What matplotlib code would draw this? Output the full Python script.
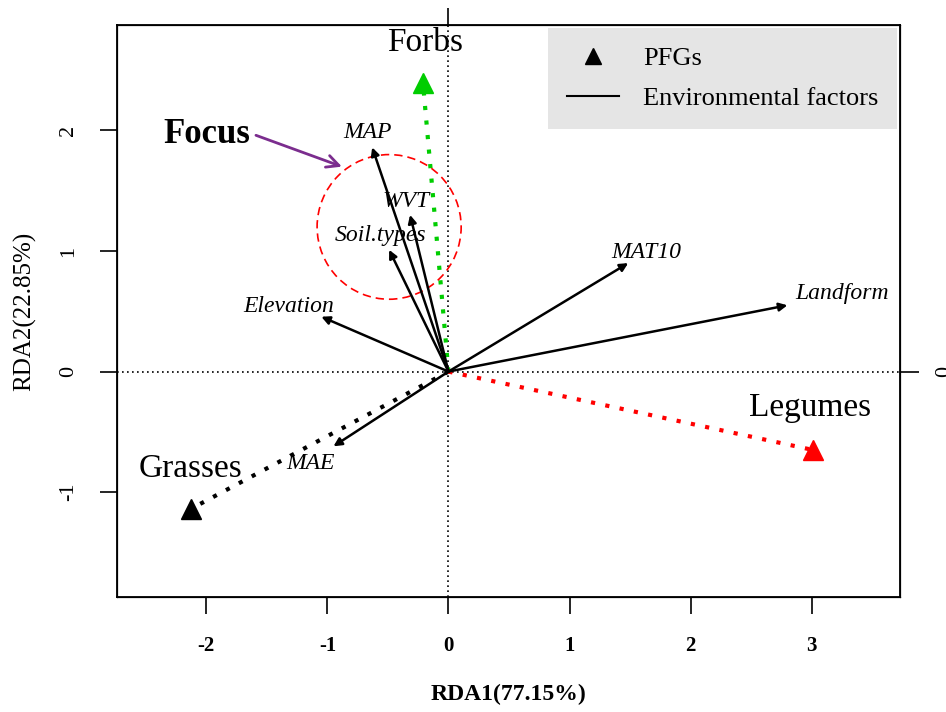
import matplotlib.pyplot as plt
from matplotlib.patches import Ellipse
from matplotlib.lines import Line2D

plt.rcParams['font.family'] = ['Liberation Serif', 'DejaVu Serif']

# PFG scores (triangles)
pfg_names = ['Grasses', 'Forbs', 'Legumes']
pfg_x = [-2.13, -0.21, 3.01]
pfg_y = [-1.14, 2.39, -0.65]
pfg_lab_x = [-2.13, -0.19, 2.99]
pfg_lab_y = [-0.81, 2.73, -0.30]
pfg_colors = ['black', '#00CD00', '#FF0000']

# environmental factor arrows
env_names = ['MAP', 'WVT', 'Soil.types', 'Elevation', 'MAT10', 'Landform', 'MAE']
env_x = [-0.63, -0.317, -0.49, -1.05, 1.485, 2.80, -0.95]
env_y = [1.86, 1.30, 1.01, 0.455, 0.90, 0.55, -0.62]
env_lab_x = [-0.67, -0.35, -0.56, -1.32, 1.63, 3.25, -1.14]
env_lab_y = [1.98, 1.41, 1.13, 0.54, 0.99, 0.65, -0.76]

xticks = [-2, -1, 0, 1, 2, 3]
yticks = [-1, 0, 1, 2]

fig = plt.figure(figsize=(9.46, 7.12), dpi=100)
ax = fig.add_axes([0.1234, 0.1615, 0.8280, 0.8034])
ax.set_xlim(-2.74, 3.73)
ax.set_ylim(-1.87, 2.875)

ax.axhline(0, color='black', ls=(0, (1, 2)), lw=1.2, zorder=1)
ax.axvline(0, color='black', ls=(0, (1, 2)), lw=1.2, zorder=1)

# dotted lines to PFGs
for x, y, c in zip(pfg_x, pfg_y, pfg_colors):
    ax.plot([0, x], [0, y], color=c, ls=(0, (1, 2.5)), lw=3, zorder=2)
    ax.plot(x, y, marker='^', ms=14, color=c, zorder=4)
for name, x, y in zip(pfg_names, pfg_lab_x, pfg_lab_y):
    ax.text(x, y, name, fontsize=24, ha='center', va='center')

# env arrows
for name, x, y, lx, ly in zip(env_names, env_x, env_y, env_lab_x, env_lab_y):
    ax.annotate('', xy=(x, y), xytext=(0, 0),
                arrowprops=dict(arrowstyle='-|>', lw=1.8, color='black',
                                mutation_scale=12, shrinkA=0, shrinkB=0), zorder=3)
    ax.text(lx, ly, name, fontsize=17, style='italic', ha='center', va='center', zorder=5)

# focus circle
ax.add_patch(Ellipse((-0.49, 1.20), 2 * 0.595, 2 * 0.60, fill=False,
                     edgecolor='#FF0000', ls=(0, (5, 3)), lw=1.2, zorder=2))
ax.annotate('', xy=(-0.88, 1.70), xytext=(-1.59, 1.96),
            arrowprops=dict(arrowstyle='->', lw=2, color='#7B2D8E',
                            mutation_scale=22, shrinkA=0, shrinkB=0))
ax.text(-2.0, 1.97, 'Focus', fontsize=25, fontweight='bold', ha='center', va='center')

# legend
handles = [Line2D([], [], marker='^', ls='none', color='black', ms=12),
           Line2D([], [], color='black', lw=1.5)]
leg = ax.legend(handles, ['PFGs', 'Environmental factors'], loc='upper right',
                bbox_to_anchor=(0.996, 0.995), borderaxespad=0, fontsize=19,
                facecolor='#E5E5E5', edgecolor='none', framealpha=1, fancybox=False,
                handlelength=2.0, handletextpad=0.9, labelspacing=0.65, borderpad=0.7)

ax.set_xticks(xticks)
ax.set_xticklabels([str(t) for t in xticks], fontweight='bold', fontsize=15)
ax.set_yticks(yticks)
ax.set_yticklabels([str(t) for t in yticks], fontsize=16, rotation=90, va='center')
ax.tick_params(axis='x', length=12, width=1.2, pad=16)
ax.tick_params(axis='y', length=12, width=1.2, pad=16)
for s in ax.spines.values():
    s.set_linewidth(1.3)

ax.set_xlabel('RDA1(77.15%)', fontsize=17, fontweight='bold', labelpad=20)
ax.set_ylabel('RDA2(22.85%)', fontsize=18, labelpad=16)

# secondary axes (only the 0 tick falls inside)
axr = ax.twinx()
axr.set_ylim(ax.get_ylim())
axr.set_yticks([0])
axr.set_yticklabels(['0'], fontsize=16, rotation=90, va='center')
axr.tick_params(length=14, width=1.2, pad=11)
axt = ax.twiny()
axt.set_xlim(ax.get_xlim())
axt.set_xticks([0])
axt.set_xticklabels([''])
axt.tick_params(length=12, width=1.2)

fig.savefig('out.png', dpi=100)
